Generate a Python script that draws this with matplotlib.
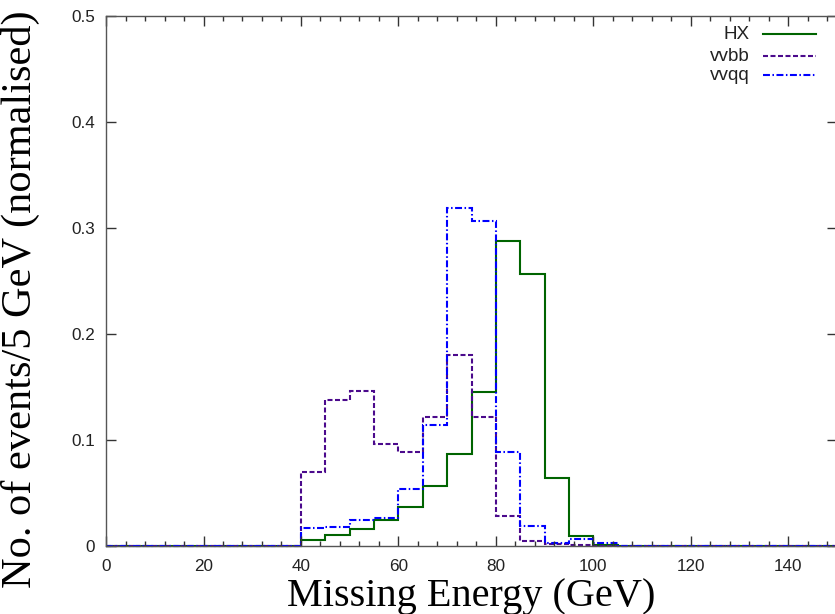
import numpy as np
import matplotlib
matplotlib.use('Agg')
import matplotlib.pyplot as plt
from matplotlib.ticker import MultipleLocator

plt.rcParams['lines.scale_dashes'] = False

# bordas dos bins (GeV), largura 5 GeV
bordas = np.arange(0, 155, 5)

# valores normalizados por bin (40-105 GeV), zero fora
zeros_antes = [0.0] * 8
zeros_depois = [0.0] * 9
hx = zeros_antes + [0.0057, 0.0104, 0.016, 0.0245, 0.037, 0.0566, 0.0865,
                    0.1456, 0.288, 0.257, 0.0638, 0.0097, 0.001] + zeros_depois
vvbb = zeros_antes + [0.070, 0.138, 0.146, 0.096, 0.089, 0.122, 0.180,
                      0.122, 0.0286, 0.0047, 0.002, 0.001, 0.0005] + zeros_depois
vvqq = zeros_antes + [0.017, 0.018, 0.0245, 0.026, 0.054, 0.114, 0.319,
                      0.3066, 0.089, 0.019, 0.003, 0.0066, 0.003] + zeros_depois

rotulos = ['HX', 'vvbb', 'vvqq']
cores = ['#006400', '#4b0a8c', '#0000ff']
tracos = [(None, None), (0, (3.6, 1.8)), (0, (5.0, 1.8, 1.1, 1.8))]

fig = plt.figure(figsize=(8.35, 6.14), dpi=100)
ax = fig.add_axes([0.127, 0.1107, 0.8754, 0.8632])

series = [hx, vvbb, vvqq]
for vals, cor, tr in zip(series, cores, tracos):
    s = ax.stairs(vals, bordas, baseline=None, color=cor, linewidth=1.5,
                  clip_on=False)
    if tr[0] is not None:
        s.set_linestyle(tr)

ax.set_xlim(0, 150)
ax.set_ylim(0, 0.5)
ax.xaxis.set_major_locator(MultipleLocator(20))
ax.xaxis.set_minor_locator(MultipleLocator(4))
ax.yaxis.set_major_locator(MultipleLocator(0.1))
ax.yaxis.set_major_formatter(plt.FuncFormatter(lambda v, p: '0' if v == 0 else '%.1f' % v))

ax.tick_params(which='both', direction='in', top=True, right=True,
               colors='#333333', labelcolor='#222222')
ax.tick_params(which='major', length=7, width=1)
ax.tick_params(which='minor', length=3.5, width=1)
ax.tick_params(axis='x', pad=9)
ax.tick_params(axis='y', pad=8)
for lab in ax.get_xticklabels() + ax.get_yticklabels():
    lab.set_family('Liberation Sans')
    lab.set_fontsize(12.3)
for sp in ax.spines.values():
    sp.set_color('#555555')
    sp.set_linewidth(1)

ax.set_xlabel('Missing Energy (GeV)', family='Liberation Serif', fontsize=29,
              labelpad=3)
ax.set_ylabel('No. of events/5 GeV (normalised)', family='Liberation Serif',
              fontsize=30.5)
ax.yaxis.set_label_coords(-0.091, 0.465)

# legenda estilo gnuplot: texto à direita alinhado, amostra de linha depois
ys = [0.966, 0.9245, 0.8887]
for lab, cor, tr, y in zip(rotulos, cores, tracos, ys):
    ax.text(0.881, y, lab, transform=ax.transAxes, ha='right', va='center',
            family='Liberation Sans', fontsize=13.6, color='#222222')
    ln, = ax.plot([0.899, 0.971], [y, y], transform=ax.transAxes,
                  color=cor, linewidth=1.5)
    if tr[0] is not None:
        ln.set_linestyle(tr)

fig.savefig('out.png', dpi=100)
